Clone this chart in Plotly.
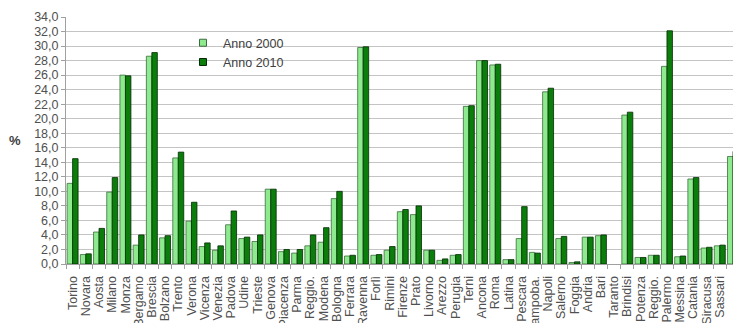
import plotly.graph_objects as go

cities = ["Torino", "Novara", "Aosta", "Milano", "Monza", "Bergamo", "Brescia", "Bolzano",
          "Trento", "Verona", "Vicenza", "Venezia", "Padova", "Udine", "Trieste", "Genova",
          "Piacenza", "Parma", "Reggio.", "Modena", "Bologna", "Ferrara", "Ravenna", "Forlì",
          "Rimini", "Firenze", "Prato", "Livorno", "Arezzo", "Perugia", "Terni", "Ancona",
          "Roma", "Latina", "Pescara", "Campoba.", "Napoli", "Salerno", "Foggia", "Andria",
          "Bari", "Taranto", "Brindisi", "Potenza", "Reggio.", "Palermo", "Messina", "Catania",
          "Siracusa", "Sassari", "Cagliari"]

anno_2000 = [11.1, 1.3, 4.4, 9.9, 26.0, 2.6, 28.6, 3.6, 14.6, 5.9, 2.4, 1.9, 5.4, 3.5, 3.1,
             10.3, 1.7, 1.5, 2.5, 3.0, 9.0, 1.1, 29.8, 1.2, 1.9, 7.2, 6.8, 1.9, 0.5, 1.2,
             21.7, 28.0, 27.4, 0.6, 3.5, 1.6, 23.7, 3.5, 0.2, 3.7, 3.9, None, 20.5, 0.9,
             1.2, 27.2, 1.0, 11.7, 2.2, 2.5, 14.8]

anno_2010 = [14.5, 1.4, 4.9, 11.9, 25.9, 4.0, 29.1, 3.9, 15.4, 8.5, 2.9, 2.5, 7.3, 3.7, 4.0,
             10.3, 2.0, 2.0, 4.0, 5.0, 10.0, 1.2, 29.9, 1.3, 2.4, 7.5, 8.0, 1.9, 0.7, 1.3,
             21.8, 28.0, 27.5, 0.6, 7.9, 1.5, 24.2, 3.8, 0.3, 3.7, 4.0, None, 20.9, 0.9,
             1.2, 32.1, 1.1, 11.9, 2.3, 2.6, 15.5]

y_ticks = [0, 2, 4, 6, 8, 10, 12, 14, 16, 18, 20, 22, 24, 26, 28, 30, 32, 34]

idx = list(range(len(cities)))

light = "#8EEA8E"
dark = "#0B7D0B"
font_family = "Liberation Sans, Arial, sans-serif"
txt_col = "#505050"

fig = go.Figure()
fig.add_trace(go.Bar(x=idx, y=anno_2000, name="Anno 2000", showlegend=False,
                     marker=dict(color=light, line=dict(color="#3d6b3d", width=0.8))))
fig.add_trace(go.Bar(x=idx, y=anno_2010, name="Anno 2010", showlegend=False,
                     marker=dict(color=dark, line=dict(color="#032b03", width=0.8))))
# legend entries
fig.add_trace(go.Scatter(x=[None], y=[None], mode="markers", name="Anno 2000",
                         marker=dict(symbol="square", size=7, color=light,
                                     line=dict(color="#3d6b3d", width=1))))
fig.add_trace(go.Scatter(x=[None], y=[None], mode="markers", name="Anno 2010",
                         marker=dict(symbol="square", size=7, color=dark,
                                     line=dict(color="#032b03", width=1))))

fig.update_layout(
    width=733, height=323,
    margin=dict(l=66, r=0, t=17, b=59, autoexpand=False),
    paper_bgcolor="white", plot_bgcolor="white",
    barmode="group", bargap=0.17, bargroupgap=0,
    separators=",.",
    font=dict(family=font_family, size=12.5, color=txt_col),
    legend=dict(x=0.1754, y=0.955, xanchor="left", yanchor="top",
                bgcolor="rgba(0,0,0,0)", font=dict(size=12.5, color="#404040"),
                tracegroupgap=0),
    annotations=[dict(text="<b>%</b>", xref="paper", yref="paper", x=-0.0765, y=0.498,
                      xanchor="center", yanchor="middle", showarrow=False,
                      font=dict(size=13, color="#404040"))],
)

fig.update_xaxes(
    range=[-0.5, 50.0], automargin=False,
    tickmode="array", tickvals=idx, ticktext=cities,
    tickangle=-90, ticks="", ticklabelstandoff=6,
    showgrid=False, showline=True, linecolor="#a0a0a0", linewidth=1,
    zeroline=False,
    minor=dict(ticks="outside", ticklen=4, tickcolor="#a0a0a0", tickmode="linear",
               tick0=-0.5, dtick=1, showgrid=False),
    tickfont=dict(size=12.5, color=txt_col),
)
fig.update_yaxes(
    range=[0, 34], automargin=False, tickmode="array", tickvals=y_ticks, tickformat=".1f",
    showgrid=True, gridcolor="#c4c4c4", gridwidth=1,
    showline=True, linecolor="#a0a0a0", linewidth=1,
    ticks="outside", ticklen=4, tickcolor="#a0a0a0",
    zeroline=False,
    tickfont=dict(size=12.5, color=txt_col),
)

fig.write_html("out.html")
